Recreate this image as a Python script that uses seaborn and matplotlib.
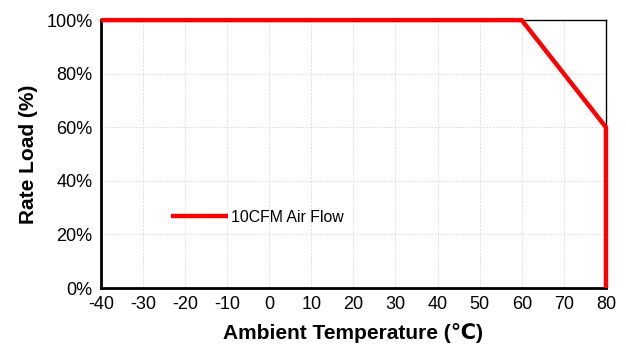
import pandas as pd
import matplotlib
matplotlib.use("Agg")
import matplotlib.pyplot as plt
import seaborn as sns
from matplotlib.ticker import PercentFormatter

# derating curve points
temps = [-40, 60, 80, 80]
load_pct = [100, 100, 60, 0]
series_name = "10CFM Air Flow"

x_ticks = list(range(-40, 81, 10))
y_ticks = list(range(0, 101, 20))

sns.set_style("white")
plt.rcParams['font.family'] = ['Liberation Sans', 'DejaVu Sans']
plt.rcParams['axes.unicode_minus'] = False
plt.rcParams['text.color'] = 'black'
plt.rcParams['axes.labelcolor'] = 'black'

df = pd.DataFrame({"temp": temps, "load": load_pct, "series": series_name})

fig = plt.figure(figsize=(6.26, 3.47), dpi=100)
ax = fig.add_axes([0.161, 0.170, 0.807, 0.772])

ax.grid(True, color="#e0e0e0", linestyle=(0, (2, 1.5)), linewidth=0.7)
ax.set_axisbelow(True)

sns.lineplot(data=df, x="temp", y="load", hue="series", palette=["#ff0000"],
             sort=False, estimator=None, linewidth=3.2, ax=ax,
             solid_capstyle="butt", zorder=3, clip_on=False)

ax.set_xlim(-40, 80)
ax.set_ylim(0, 100)
ax.set_xticks(x_ticks)
ax.set_yticks(y_ticks)
ax.yaxis.set_major_formatter(PercentFormatter(decimals=0))
ax.tick_params(axis="both", length=0, labelsize=13, colors="black", pad=6)

for side in ["left", "bottom"]:
    ax.spines[side].set_linewidth(2.0)
for side in ["top", "right"]:
    ax.spines[side].set_linewidth(1.0)
for s in ax.spines.values():
    s.set_color("black")

ax.set_xlabel("Ambient Temperature (℃)", fontsize=15, fontweight="bold", labelpad=7)
ax.set_ylabel("Rate Load (%)", fontsize=15, fontweight="bold", labelpad=6)

leg = ax.legend(loc="center left", bbox_to_anchor=(0.11, 0.265), frameon=False,
                fontsize=11.4, handlelength=3.6, handletextpad=0.2)
for line in leg.get_lines():
    line.set_linewidth(3.2)
for t in leg.get_texts():
    t.set_color("black")

fig.savefig("out.png", dpi=100)
plt.close(fig)
